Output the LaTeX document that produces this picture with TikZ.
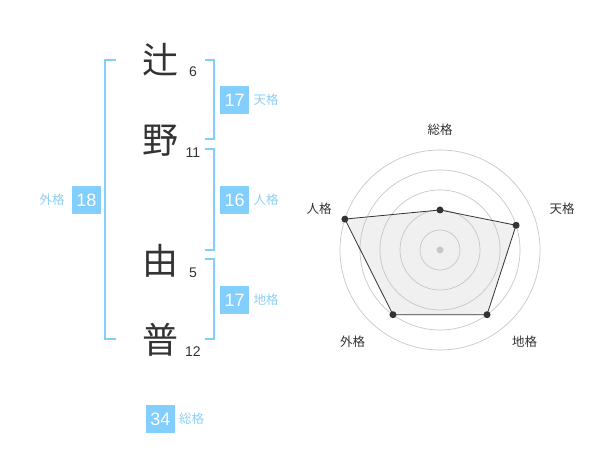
\documentclass[tikz,border=0pt]{standalone}
\usepackage{fontspec}
\setmainfont{Liberation Sans}
\newfontfamily\jp{Noto Sans CJK JP}
\usetikzlibrary{positioning}
\definecolor{kakublue}{HTML}{82CEFC}
\definecolor{kakutext}{HTML}{8DCFF5}
\definecolor{inkgray}{HTML}{333333}
\tikzset{
  kanji/.style={font=\jp\fontsize{36}{40}\selectfont, text=inkgray, inner sep=0},
  strokes/.style={font=\fontsize{14}{16}\selectfont, text=inkgray, inner sep=0},
  kakubox/.style={fill=kakublue, text=white, minimum width=29pt, minimum height=28pt, inner sep=0, font=\fontsize{18}{20}\selectfont},
  kakulabel/.style={font=\jp\fontsize{12.5}{14}\selectfont, text=kakutext, inner sep=0},
  bracket/.style={draw=kakublue, line width=2pt},
  ring/.style={draw=black!22, line width=0.7pt},
  axislabel/.style={font=\jp\fontsize{12.5}{14}\selectfont, text=inkgray, inner sep=0},
}
\begin{document}
\begin{tikzpicture}[x=1pt, y=1pt]
  \useasboundingbox (0,0) rectangle (600,470);

  \node[kanji] (Tsuji) at (160,410) {辻};
  \node[kanji] (No) at (160,329) {野};
  \node[kanji] (Yu) at (160,209) {由};
  \node[kanji] (Fu) at (160,130) {普};
  \node[strokes, on grid, below right=12pt and 33pt of Tsuji] (TsujiN) {6};
  \node[strokes, on grid, below right=12pt and 33pt of No] (NoN) {11};
  \node[strokes, on grid, below right=12pt and 33pt of Yu] (YuN) {5};
  \node[strokes, on grid, below right=12pt and 33pt of Fu] (FuN) {12};

  \draw[bracket] (116,410) -- (105,410) -- (105,131) -- (116,131);
  \draw[bracket] (205,410) -- (214.3,410) -- (214.3,330.7) -- (205,330.7);
  \draw[bracket] (205,321) -- (214.3,321) -- (214.3,220) -- (205,220);
  \draw[bracket] (205,210.7) -- (214.3,210.7) -- (214.3,131) -- (205,131);

  \node[kakubox] (Ten) at (234.7,370) {17};
  \node[kakulabel, right=4pt of Ten] (TenL) {天格};
  \node[kakubox] (Jin) at (234.7,270) {16};
  \node[kakulabel, right=4pt of Jin] (JinL) {人格};
  \node[kakubox] (Chi) at (234.7,170) {17};
  \node[kakulabel, right=4pt of Chi] (ChiL) {地格};
  \node[kakubox] (Gai) at (86.5,270) {18};
  \node[kakulabel, left=7pt of Gai] (GaiL) {外格};
  \node[kakubox] (Sou) at (160.3,51) {34};
  \node[kakulabel, right=4pt of Sou] (SouL) {総格};

  \begin{scope}[shift={(440,220)}]
    \coordinate (Rsou) at (90:40);
    \coordinate (Rten) at (18:80);
    \coordinate (Rchi) at (-54:80);
    \coordinate (Rgai) at (234:80);
    \coordinate (Rjin) at (162:100);
    \fill[black!6] (Rsou) -- (Rten) -- (Rchi) -- (Rgai) -- (Rjin) -- cycle;
    \foreach \r in {20,40,...,100}
      \draw[ring] (0,0) circle (\r);
    \fill[black!22] (0,0) circle (3.5);
    \draw[inkgray, line width=0.8pt]
      (Rsou) -- (Rten) -- (Rchi) -- (Rgai) -- (Rjin) -- cycle;
    \foreach \n in {sou,ten,chi,gai,jin}
      \fill[inkgray] (R\n) circle (3.5);
    \node[axislabel] (AxSou) at (0,120) {総格};
    \node[axislabel] (AxTen) at (122,41) {天格};
    \node[axislabel] (AxChi) at (84.5,-91.5) {地格};
    \node[axislabel] (AxGai) at (-87.5,-91.5) {外格};
    \node[axislabel] (AxJin) at (-121,41) {人格};
  \end{scope}
\end{tikzpicture}
\end{document}
